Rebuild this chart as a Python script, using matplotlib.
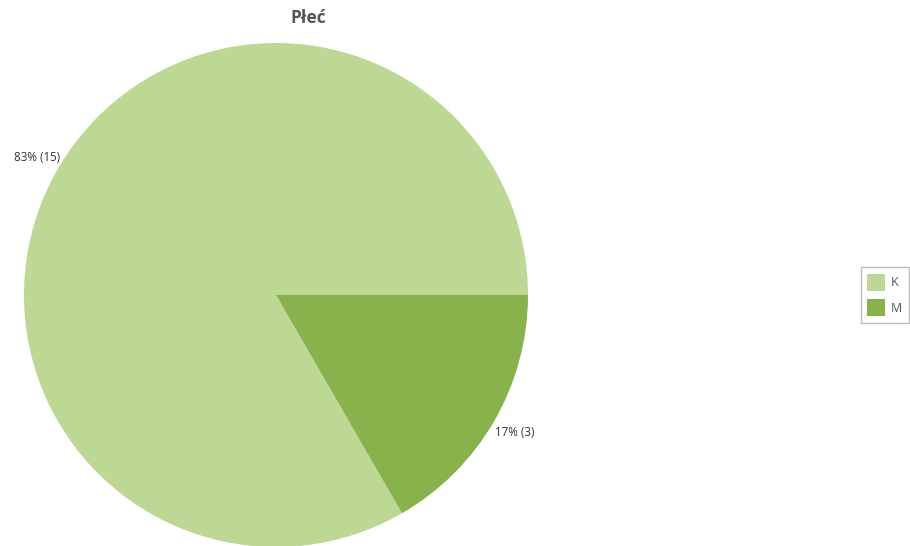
import matplotlib
matplotlib.use("Agg")
import matplotlib.pyplot as plt
from matplotlib.patches import Patch

categories = ["K", "M"]
counts = [15, 3]
colors = ["#BDD894", "#88B24B"]
title = "Płeć"

plt.rcParams['font.family'] = ['Open Sans', 'DejaVu Sans']

W, H = 910, 546
fig = plt.figure(figsize=(W / 100, H / 100), dpi=100)

cx, cy, r = 276, 295, 252
ax = fig.add_axes([(cx - r) / W, (H - cy - r) / H, 2 * r / W, 2 * r / H])
total = sum(counts)
labels = [f"{round(100 * c / total)}% ({c})" for c in counts]
wedges, texts = ax.pie(counts, colors=colors, startangle=0, counterclock=True,
                       labels=labels, labeldistance=1.095,
                       textprops=dict(fontsize=8.3, color="#333333"),
                       wedgeprops=dict(linewidth=0))
for t in texts:
    t.set_horizontalalignment("center")
    t.set_verticalalignment("center")
ax.set_xlim(-1, 1)
ax.set_ylim(-1, 1)
ax.set_aspect("equal")
ax.axis("off")

fig.text(308 / W, 1 - 18 / H, title, ha="center", va="center",
         fontsize=12.5, fontweight="bold", color="#555555")

handles = [Patch(facecolor=c, edgecolor="none") for c in colors]
leg = fig.legend(handles, categories, loc="center left",
                 bbox_to_anchor=(861 / W, 1 - 295 / H),
                 frameon=True, fancybox=False, fontsize=9,
                 handlelength=1.45, handleheight=1.75, handletextpad=0.45,
                 labelspacing=0.65, borderpad=0.5, borderaxespad=0)
leg.get_frame().set_edgecolor("#aaaaaa")
leg.get_frame().set_linewidth(1)
for t in leg.get_texts():
    t.set_color("#555555")

fig.savefig("out.png", dpi=100)
